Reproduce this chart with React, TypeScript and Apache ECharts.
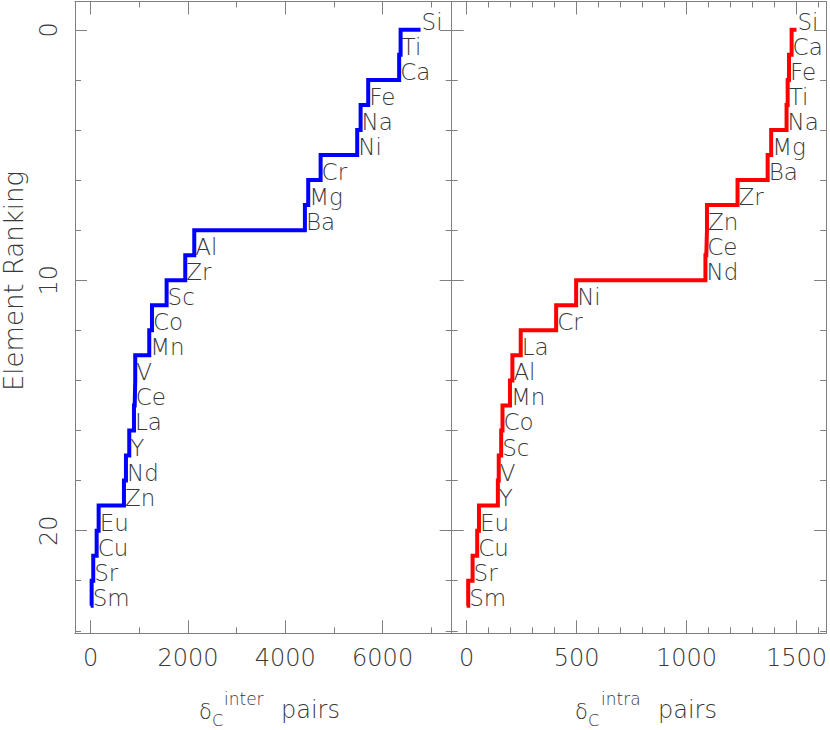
import React, { useEffect, useRef } from 'react';
import * as echarts from 'echarts';

const interElements = ['Si', 'Ti', 'Ca', 'Fe', 'Na', 'Ni', 'Cr', 'Mg', 'Ba', 'Al', 'Zr', 'Sc', 'Co', 'Mn', 'V', 'Ce', 'La', 'Y', 'Nd', 'Zn', 'Eu', 'Cu', 'Sr', 'Sm'];
const interValues = [6780, 6370, 6340, 5704, 5548, 5478, 4726, 4471, 4403, 2129, 1944, 1561, 1260, 1204, 916, 905, 890, 793, 725, 684, 164, 123, 53, 20];

const intraElements = ['Si', 'Ca', 'Fe', 'Ti', 'Na', 'Mg', 'Ba', 'Zr', 'Zn', 'Ce', 'Nd', 'Ni', 'Cr', 'La', 'Al', 'Mn', 'Co', 'Sc', 'V', 'Y', 'Eu', 'Cu', 'Sr', 'Sm'];
const intraValues = [1500, 1478, 1466, 1460, 1455, 1385, 1369, 1232, 1093, 1090, 1086, 498, 407, 246, 208, 197, 163, 157, 146, 142, 56, 48, 27, 7];

const interTicks = [0, 2000, 4000, 6000];
const interMinorTicks = [1000, 3000, 5000, 7000];
const intraTicks = [0, 500, 1000, 1500];
const intraMinorTicks = [100, 200, 300, 400, 600, 700, 800, 900, 1100, 1200, 1300, 1400, 1600];
const rankTicks = [0, 10, 20];
const rankMinorTicks = [2, 4, 6, 8, 12, 14, 16, 18, 22, 24];

const FRAME = '#808080';
const TEXT = '#383838';
const FONT = '"DejaVu Sans", sans-serif';
const WEIGHT: any = 200;

function stepPoints(values: number[]) {
  const pts: number[][] = [[values[0], 0]];
  for (let k = 1; k < values.length; k++) {
    pts.push([values[k], k - 1]);
    pts.push([values[k], k]);
  }
  pts.push([0, values.length - 1]);
  return pts;
}

const plain = (v: number) => String(v);

function xAxes(gridIndex: number, min: number, max: number, majors: number[], minors: number[]) {
  const line = { show: true, onZero: false, lineStyle: { color: FRAME, width: 1 } };
  const base = { type: 'value', gridIndex, min, max, splitLine: { show: false } };
  const major = (pos: string, labels: boolean) => ({
    ...base,
    position: pos,
    axisLine: line,
    axisTick: { show: true, inside: true, length: 13, customValues: majors, lineStyle: { color: FRAME, width: 1 } },
    axisLabel: labels
      ? { show: true, customValues: majors, formatter: plain, margin: 13, fontSize: 24, color: TEXT, fontFamily: FONT, fontWeight: WEIGHT }
      : { show: false },
  });
  const minor = (pos: string) => ({
    ...base,
    position: pos,
    axisLine: { show: false, onZero: false },
    axisTick: { show: true, inside: true, length: 6, customValues: minors, lineStyle: { color: FRAME, width: 1 } },
    axisLabel: { show: false },
  });
  return [major('bottom', true), minor('bottom'), major('top', false), minor('top')];
}

function yAxes(gridIndex: number, labels: boolean) {
  const line = { show: true, onZero: false, lineStyle: { color: FRAME, width: 1 } };
  const base = { type: 'value', gridIndex, min: -1.13, max: 24.1, inverse: true, splitLine: { show: false } };
  const major = (pos: string, lab: boolean) => ({
    ...base,
    position: pos,
    axisLine: line,
    axisTick: { show: true, inside: true, length: 12, customValues: rankTicks, lineStyle: { color: FRAME, width: 1 } },
    axisLabel: lab
      ? { show: true, customValues: rankTicks, formatter: plain, rotate: 90, margin: 14, fontSize: 24, color: TEXT, fontFamily: FONT, fontWeight: WEIGHT }
      : { show: false },
  });
  const minor = (pos: string) => ({
    ...base,
    position: pos,
    axisLine: { show: false, onZero: false },
    axisTick: { show: true, inside: true, length: 6, customValues: rankMinorTicks, lineStyle: { color: FRAME, width: 1 } },
    axisLabel: { show: false },
  });
  return [major('left', labels), minor('left'), major('right', false), minor('right')];
}

function panelSeries(elements: string[], values: number[], color: string, axisIndex: number) {
  return [
    {
      type: 'line',
      xAxisIndex: axisIndex,
      yAxisIndex: axisIndex,
      data: stepPoints(values),
      symbol: 'none',
      showSymbol: false,
      lineStyle: { color, width: 4, cap: 'butt', join: 'miter' },
      clip: false,
      silent: true,
      z: 2,
    },
    {
      type: 'scatter',
      xAxisIndex: axisIndex,
      yAxisIndex: axisIndex,
      data: elements.map((name, k) => ({ name, value: [values[k], k] })),
      symbolSize: 1,
      itemStyle: { color: 'rgba(0,0,0,0)' },
      silent: true,
      z: 3,
      labelLayout: { hideOverlap: false },
      label: {
        show: true,
        position: [1.5, -7.5],
        formatter: '{b}',
        align: 'left',
        verticalAlign: 'middle',
        fontSize: 23,
        color: TEXT,
        fontFamily: FONT,
        fontWeight: WEIGHT,
        opacity: 1,
      },
    },
  ];
}

function txt(text: string, x: number, baseline: number, size: number) {
  return {
    type: 'text',
    x,
    y: baseline - 0.346 * size,
    silent: true,
    style: { text, fontSize: size, fill: TEXT, fontFamily: FONT, fontWeight: WEIGHT, align: 'left', verticalAlign: 'middle' },
  };
}

export default function App() {
  const ref = useRef<HTMLDivElement>(null);
  useEffect(() => {
    if (!ref.current) return;
    const chart = echarts.init(ref.current, null, { renderer: 'svg' });
    const option: any = {
      animation: false,
      backgroundColor: '#ffffff',
      grid: [
        { left: 75, top: 1.5, width: 376.7, height: 631.8 },
        { left: 451.7, top: 1.5, width: 376.6, height: 631.8 },
      ],
      xAxis: [
        ...xAxes(0, -322, 7420, interTicks, interMinorTicks),
        ...xAxes(1, -68, 1635, intraTicks, intraMinorTicks),
      ],
      yAxis: [...yAxes(0, true), ...yAxes(1, false)],
      series: [
        ...panelSeries(interElements, interValues, '#0000ff', 0),
        ...panelSeries(intraElements, intraValues, '#ff0000', 4),
      ],
      graphic: [
        {
          type: 'text',
          x: 13.5,
          y: 281,
          rotation: Math.PI / 2,
          silent: true,
          style: { text: 'Element Ranking', fontSize: 26, fill: TEXT, fontFamily: FONT, fontWeight: WEIGHT, align: 'center', verticalAlign: 'middle' },
        },
        txt('δ', 199, 719, 21),
        txt('C', 212, 726, 16),
        txt('inter', 224, 705, 17),
        txt('pairs', 281, 718, 24),
        txt('δ', 575, 719, 21),
        txt('C', 588, 726, 16),
        txt('intra', 601, 705, 17),
        txt('pairs', 658, 718, 24),
      ],
    };
    chart.setOption(option);
    return () => chart.dispose();
  }, []);
  return <div ref={ref} style={{ position: 'absolute', left: 0, top: 0, width: 830, height: 730 }} />;
}
